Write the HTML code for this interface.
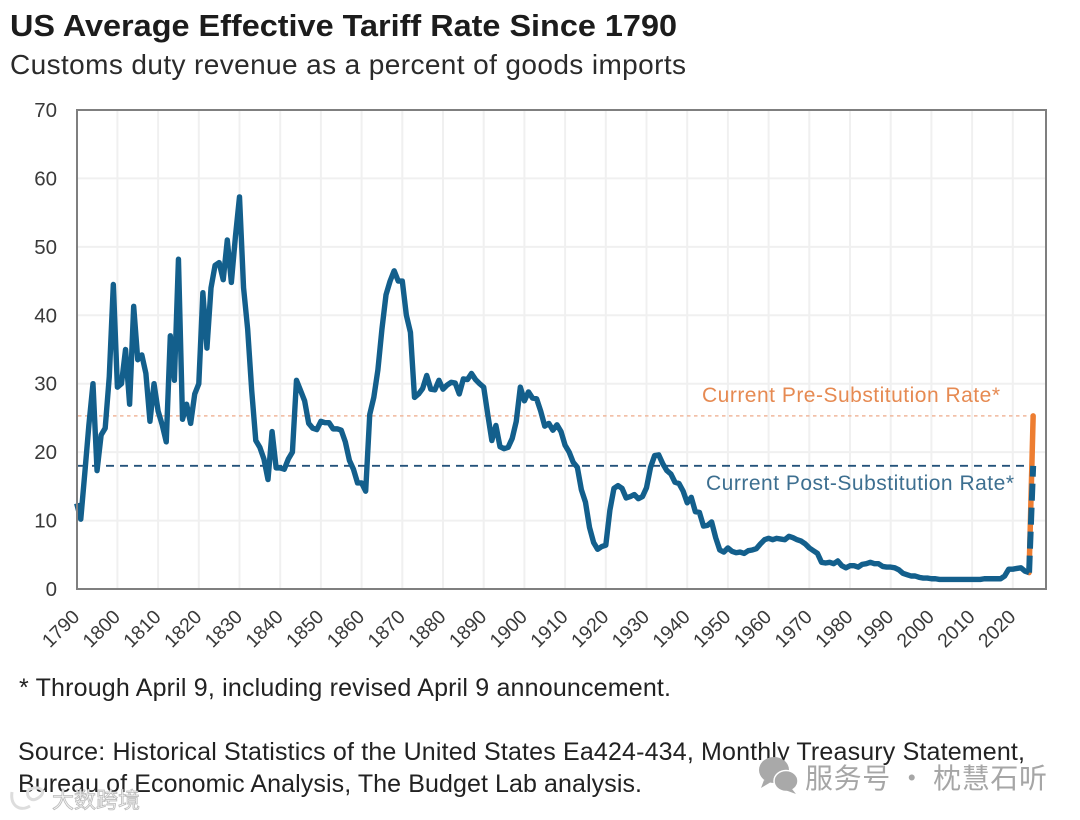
<!DOCTYPE html>
<html lang="en">
<head>
<meta charset="utf-8">
<title>US Average Effective Tariff Rate Since 1790</title>
<style>
html,body{margin:0;padding:0;background:#fff;}
svg{display:block;font-family:"Liberation Sans","Noto Sans CJK SC",sans-serif;}
</style>
</head>
<body>
<svg id="chart" width="1080" height="820" viewBox="0 0 1080 820" xmlns="http://www.w3.org/2000/svg">
  <rect x="0" y="0" width="1080" height="820" fill="#ffffff"/>
  <text x="10" y="36" font-size="30.5" font-weight="700" fill="#1c1c1c" textLength="667" lengthAdjust="spacingAndGlyphs">US Average Effective Tariff Rate Since 1790</text>
  <text x="10" y="74" font-size="28" fill="#2b2b2b" textLength="676" lengthAdjust="spacing">Customs duty revenue as a percent of goods imports</text>
  <g id="grid"></g>
  <g id="refs"></g>
  <text x="702" y="402" font-size="21" fill="#e68a52" textLength="298" lengthAdjust="spacing">Current Pre-Substitution Rate*</text>
  <text x="706" y="490" font-size="21" fill="#3d6f90" textLength="308" lengthAdjust="spacing">Current Post-Substitution Rate*</text>
  <g id="series"></g>
  <rect x="77" y="110" width="969" height="479" fill="none" stroke="#7f7f7f" stroke-width="2"/>
  <g id="axes"></g>
  <text x="19" y="696" font-size="25" fill="#222222" textLength="652" lengthAdjust="spacing">* Through April 9, including revised April 9 announcement.</text>
  <text x="18" y="760" font-size="25" fill="#222222" textLength="1007" lengthAdjust="spacing">Source: Historical Statistics of the United States Ea424-434, Monthly Treasury Statement,</text>
  <text x="18" y="792" font-size="25" fill="#222222" textLength="624" lengthAdjust="spacing">Bureau of Economic Analysis, The Budget Lab analysis.</text>
  <g fill="#a9a9a9">
    <ellipse cx="774" cy="770" rx="15" ry="13"/>
    <path d="M764 780 L761 788 L771 782 Z"/>
    <ellipse cx="786" cy="781" rx="12" ry="10.5" stroke="#ffffff" stroke-width="1.5"/>
    <path d="M792 789 L796 794 L785 790 Z"/>
  </g>
  <text x="805" y="788" font-size="28" fill="#a6a6a6" textLength="242" lengthAdjust="spacing" style="font-family:'Noto Sans CJK SC',sans-serif">服务号 · 枕慧石听</text>
  <text x="52" y="808" font-size="22" fill="#f4f4f4" stroke="#bbbbbb" stroke-width="0.8" style="font-family:'Noto Sans CJK SC',sans-serif">大数跨境</text>
  <path d="M12 792 C10 806 20 812 30 806 M28 790 C40 784 48 792 38 798 C32 802 26 798 28 790" fill="none" stroke="#dddddd" stroke-width="3"/>
</svg>
<script>
const startYear = 1790;
const rateValues = [
  12.5,10.2,17,24,30,17.3,22.5,23.5,31,44.5,
  29.5,30,35,27,41.3,33.5,34.2,31.5,24.5,30,
  26,24,21.5,37,30.5,48.2,24.8,27,24.2,28.5,
  30,43.3,35.2,44,47.3,47.7,45.2,51,44.8,51.5,
  57.3,44,38,29,21.7,20.7,19,16,23,17.7,
  17.7,17.5,19,20,30.5,29,27.5,24.2,23.5,23.3,
  24.5,24.3,24.3,23.4,23.4,23.2,21.5,18.8,17.5,15.5,
  15.5,14.3,25.5,28,32,38,43,45,46.5,45,
  45,40,37.5,28,28.5,29.3,31.2,29.2,29.1,30.5,
  29.2,29.8,30.2,30.1,28.5,30.7,30.6,31.5,30.6,30,
  29.5,25.5,21.7,23.9,20.8,20.5,20.7,22,24.5,29.5,
  27.5,28.8,27.9,27.8,26,23.8,24.2,23.2,24,23,
  21,20,18.5,17.8,14.5,12.7,9,6.8,5.8,6.2,
  6.4,11.5,14.7,15.1,14.7,13.3,13.5,13.8,13.2,13.5,
  14.8,17.8,19.5,19.6,18.3,17.3,16.8,15.6,15.4,14.3,
  12.6,13.4,11.3,11.2,9.2,9.3,9.8,7.5,5.7,5.4,
  6,5.5,5.3,5.4,5.2,5.6,5.7,5.9,6.6,7.2,
  7.4,7.2,7.4,7.3,7.2,7.7,7.5,7.2,7,6.6,
  6,5.6,5.2,3.9,3.8,3.9,3.7,4.1,3.4,3.1,
  3.4,3.4,3.2,3.6,3.7,3.9,3.7,3.7,3.3,3.2,
  3.2,3.1,2.8,2.3,2.1,1.9,1.9,1.7,1.6,1.6,
  1.5,1.5,1.4,1.4,1.4,1.4,1.4,1.4,1.4,1.4,
  1.4,1.4,1.4,1.5,1.5,1.5,1.5,1.5,1.9,2.9,
  2.9,3,3.1,2.6,2.4
];
const finalYear = 2025;
const preSubstitutionRate = 25.3;
const postSubstitutionRate = 18;
const xTickLabels = ["1790","1800","1810","1820","1830","1840","1850","1860","1870","1880","1890","1900","1910","1920","1930","1940","1950","1960","1970","1980","1990","2000","2010","2020"];
const yTickLabels = ["0","10","20","30","40","50","60","70"];

const NS = "http://www.w3.org/2000/svg";
const xScale = year => 76.7 + (year - 1790) * 4.07;
const yScale = value => 589 - value * 6.843;
function make(tag, attrs, parent) {
  const el = document.createElementNS(NS, tag);
  for (const k in attrs) el.setAttribute(k, attrs[k]);
  parent.appendChild(el);
  return el;
}
const grid = document.getElementById("grid");
const refs = document.getElementById("refs");
const series = document.getElementById("series");
const axes = document.getElementById("axes");

xTickLabels.forEach(label => {
  const x = xScale(Number(label));
  if (Number(label) > 1790) {
    const line = make("line", {x1: x, x2: x, y1: 110, y2: 589, stroke: "#f0f0f0", "stroke-width": 2}, grid);
    
    
  }
  const tx = x - 1;
  const ty = 613;
  const text = make("text", {x: 0, y: 0, "font-size": 19.5, fill: "#3a3a3a", "text-anchor": "end", transform: "translate(" + tx + " " + ty + ") rotate(-45) translate(0 7)"}, axes);
  text.textContent = label;
  
  
});

yTickLabels.forEach(label => {
  const y = yScale(Number(label));
  if (Number(label) > 0 && Number(label) < 70) {
    const line = make("line", {x1: 78, x2: 1045, y1: y, y2: y, stroke: "#f0f0f0", "stroke-width": 2}, grid);
    
    
  }
  const text = make("text", {x: 57, y: y + 7, "font-size": 20.5, fill: "#3a3a3a", "text-anchor": "end"}, axes);
  text.textContent = label;
  
  
});

const refEndX = xScale(finalYear) - 3;
const preLine = make("line", {x1: 78, x2: refEndX, y1: yScale(preSubstitutionRate), y2: yScale(preSubstitutionRate), stroke: "#f0b89c", "stroke-width": 1.6, "stroke-dasharray": "3.5 3.5"}, refs);


const postLine = make("line", {x1: 78, x2: refEndX, y1: yScale(postSubstitutionRate), y2: yScale(postSubstitutionRate), stroke: "#24527a", "stroke-width": 1.8, "stroke-dasharray": "8 6"}, refs);



const lastIndex = rateValues.length - 1;
const lastX = xScale(startYear + lastIndex);
const lastY = yScale(rateValues[lastIndex]);
const prePath = make("path", {d: "M" + lastX + " " + lastY + "L" + xScale(finalYear) + " " + yScale(preSubstitutionRate), fill: "none", stroke: "#ed7d31", "stroke-width": 5.5, "stroke-linecap": "round"}, series);



const points = rateValues.map((v, i) => xScale(startYear + i).toFixed(2) + " " + yScale(v).toFixed(2));
const histPath = make("path", {d: "M" + points.join("L"), fill: "none", stroke: "#135f8c", "stroke-width": 5.4, "stroke-linejoin": "round", "stroke-linecap": "butt"}, series);



const postPath = make("path", {d: "M" + lastX + " " + lastY + "L" + xScale(finalYear) + " " + yScale(postSubstitutionRate), fill: "none", stroke: "#135f8c", "stroke-width": 6, "stroke-dasharray": "17 7"}, series);


</script>
</body>
</html>
